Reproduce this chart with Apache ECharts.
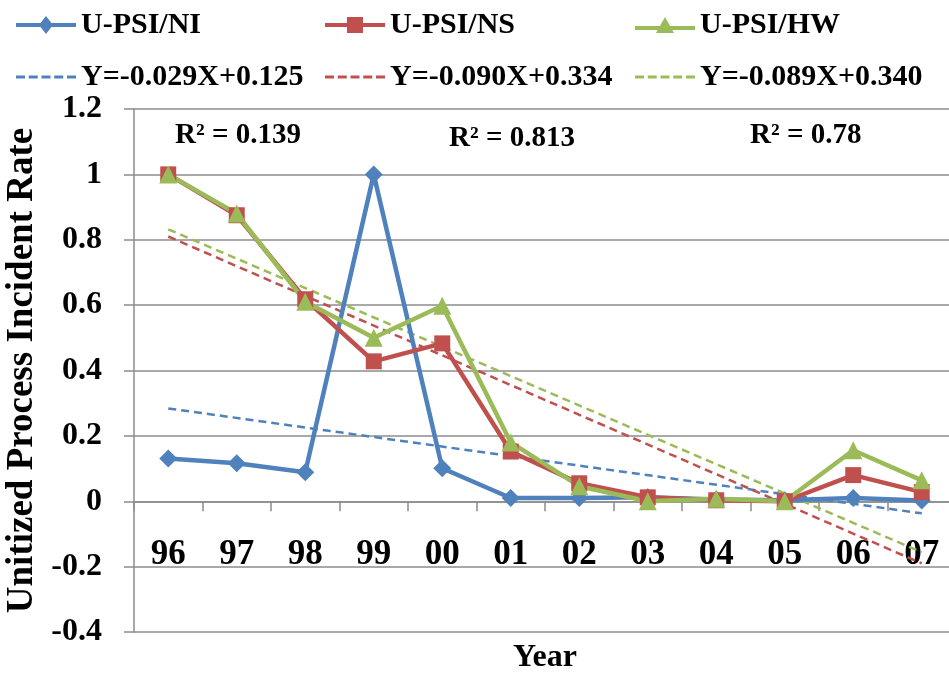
<!DOCTYPE html>
<html>
<head>
    <meta charset="utf-8">
    <title>U-PSI</title>
    <script src="https://cdn.jsdelivr.net/npm/echarts@6/dist/echarts.min.js"></script>
    <style>
        html, body { margin: 0; padding: 0; background: #fff; }
        #main { width: 949px; height: 673px; }
    </style>
</head>
<body>
    <div id="main"></div>
    <script type="text/javascript">
        // data
        var years = ['96', '97', '98', '99', '00', '01', '02', '03', '04', '05', '06', '07'];
        var psiNI = [0.131, 0.116, 0.089, 1.0, 0.101, 0.01, 0.01, 0.012, 0.005, 0.003, 0.01, 0.002];
        var psiNS = [1.0, 0.875, 0.618, 0.428, 0.483, 0.152, 0.055, 0.012, 0.003, 0.0, 0.08, 0.028];
        var psiHW = [1.0, 0.88, 0.61, 0.5, 0.598, 0.18, 0.046, 0.0, 0.008, 0.0, 0.156, 0.064];
        // trend lines: value at first and last year
        var trendNI = [0.284, -0.037];
        var trendNS = [0.81, -0.19];
        var trendHW = [0.832, -0.156];
        var seriesNames = ['U-PSI/NI', 'U-PSI/NS', 'U-PSI/HW'];
        var trendNames = ['Y=-0.029X+0.125', 'Y=-0.090X+0.334', 'Y=-0.089X+0.340'];
        var r2Labels = ['R\u00b2 = 0.139', 'R\u00b2 = 0.813', 'R\u00b2 = 0.78'];
        var yTicks = { min: -0.4, max: 1.2, interval: 0.2 };

        var font = "'Liberation Serif', 'Times New Roman', serif";
        var gray = '#8c8c8c';
        var colors = ['#4f81bd', '#c0504d', '#9bbb59'];

        // legend icons: line + marker, and a dashed line
        var icons = [
            'path://M0,7h60v4h-60Z M30,0L37,9L30,18L23,9Z',
            'path://M0,6h60v4h-60Z M22,0h16v16h-16Z',
            'path://M0,9h60v4h-60Z M30,0L39,16L21,16Z'
        ];
        var dashIcon = 'path://M0,0h9v3h-9Z M12.75,0h9v3h-9Z M25.5,0h9v3h-9Z M38.25,0h9v3h-9Z M51,0h9v3h-9Z';
        var iconHeights = [18, 16, 16];
        var columns = [16, 325, 635];

        function ends(vals) {
            return [[years[0], vals[0]], [years[years.length - 1], vals[1]]];
        }

        function mainLine(name, data, color, symbol, size) {
            return {
                name: name,
                type: 'line',
                data: data,
                symbol: symbol,
                symbolSize: size,
                lineStyle: { width: 4.5, color: color },
                itemStyle: { color: color },
                z: 3
            };
        }

        function trendLine(name, vals, color) {
            return {
                name: name,
                type: 'line',
                data: ends(vals),
                symbol: 'none',
                silent: true,
                lineStyle: { width: 2.5, color: color, type: [8, 5] },
                itemStyle: { color: color },
                z: 2
            };
        }

        var legendText = { fontFamily: font, fontWeight: 'bold', fontSize: 30, color: '#000' };
        var legends = [];
        for (var i = 0; i < 3; i++) {
            legends.push({
                data: [{ name: seriesNames[i], icon: icons[i] }],
                left: columns[i], top: 10,
                itemWidth: 60, itemHeight: iconHeights[i],
                padding: 0,
                textStyle: legendText
            });
            legends.push({
                data: [{ name: trendNames[i], icon: dashIcon }],
                left: columns[i], top: 62,
                itemWidth: 60, itemHeight: 3,
                padding: 0,
                textStyle: legendText
            });
        }

        var chart = echarts.init(document.getElementById('main'));

        var option = {
            animation: false,
            textStyle: { fontFamily: font },
            legend: legends,
            grid: { left: 134, right: -7, top: 109, bottom: 41, containLabel: false, outerBoundsMode: 'none' },
            xAxis: {
                type: 'category',
                data: years,
                name: 'Year',
                nameLocation: 'middle',
                nameGap: 10,
                nameTextStyle: { fontFamily: font, fontWeight: 'bold', fontSize: 32, color: '#000', verticalAlign: 'top' },
                axisLine: { onZero: true, lineStyle: { color: gray, width: 1.5 } },
                axisTick: { show: true, length: 10, lineStyle: { color: gray, width: 1.5 } },
                // labels sit just under the zero line, as in the source figure
                axisLabel: { margin: -95, fontFamily: font, fontWeight: 'bold', fontSize: 35, color: '#000' },
                splitLine: { show: false }
            },
            yAxis: {
                type: 'value',
                min: yTicks.min,
                max: yTicks.max,
                interval: yTicks.interval,
                name: 'Unitized Process Incident Rate',
                nameLocation: 'middle',
                nameGap: 92,
                nameRotate: 90,
                nameTextStyle: { fontFamily: font, fontWeight: 'bold', fontSize: 37, color: '#000' },
                axisLine: { show: true, lineStyle: { color: gray, width: 1.5 } },
                axisTick: { show: true, length: 10, lineStyle: { color: gray, width: 1.5 } },
                axisLabel: {
                    margin: 32, fontFamily: font, fontWeight: 'bold', fontSize: 32, color: '#000',
                    formatter: function (v) { return String(Math.round(v * 10) / 10); }
                },
                splitLine: { show: true, lineStyle: { color: gray, width: 1.5 } }
            },
            graphic: [
                { type: 'text', left: 175, top: 121, style: { text: r2Labels[0], font: 'bold 29px ' + font, fill: '#000' } },
                { type: 'text', left: 449, top: 124, style: { text: r2Labels[1], font: 'bold 29px ' + font, fill: '#000' } },
                { type: 'text', left: 750, top: 121, style: { text: r2Labels[2], font: 'bold 29px ' + font, fill: '#000' } }
            ],
            series: [
                mainLine(seriesNames[0], psiNI, colors[0], 'diamond', 18),
                mainLine(seriesNames[1], psiNS, colors[1], 'rect', 16),
                mainLine(seriesNames[2], psiHW, colors[2], 'triangle', 18),
                trendLine(trendNames[0], trendNI, colors[0]),
                trendLine(trendNames[1], trendNS, colors[1]),
                trendLine(trendNames[2], trendHW, colors[2])
            ]
        };

        chart.setOption(option);
    </script>
</body>
</html>
